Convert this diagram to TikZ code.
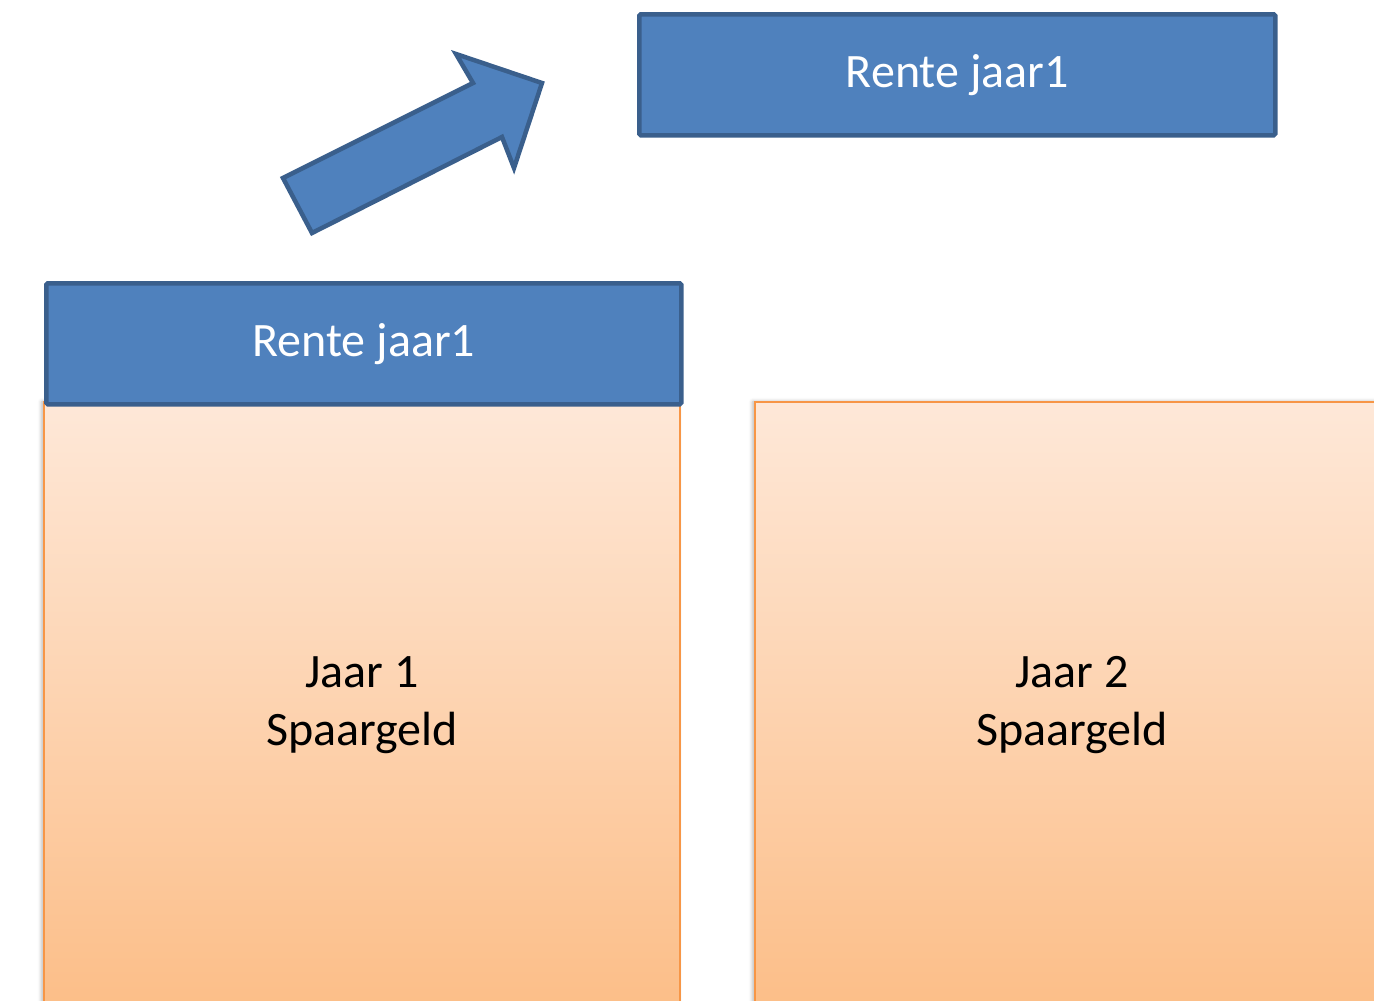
\documentclass[tikz,border=0pt]{standalone}
\usepackage{fontspec}
\setmainfont{Carlito}
\usetikzlibrary{shadows.blur}
\definecolor{bluefill}{HTML}{4F81BD}
\definecolor{blueedge}{HTML}{3A5F8C}
\definecolor{orangeedge}{HTML}{F79646}
\definecolor{orangetop}{HTML}{FEE8D8}
\definecolor{orangebot}{HTML}{FCBE88}
\tikzset{
  bluebox/.style={draw=blueedge, fill=bluefill, line width=4.5pt, rounded corners=1.5pt,
    text=white, font=\fontsize{48}{56}\selectfont, inner sep=0pt, anchor=north west},
  savebox/.style={draw=orangeedge, line width=1.8pt, top color=orangetop, bottom color=orangebot,
    text=black, font=\fontsize{48}{58}\selectfont, align=center, inner sep=0pt, anchor=north west,
    blur shadow={shadow xshift=-2pt, shadow yshift=0pt, shadow blur radius=4pt, shadow opacity=30}},
  fatarrow/.style={draw=blueedge, fill=bluefill, line width=4.5pt, line join=miter}
}
\begin{document}
\begin{tikzpicture}[x=1pt, y=-1pt]
  \useasboundingbox (0,0) rectangle (1374,1001);
  % savings columns
  \node[savebox, minimum width=636pt, minimum height=606pt] (jaar1) at (43,401)
    {Jaar 1\\Spaargeld};
  \node[savebox, minimum width=634pt, minimum height=606pt] (jaar2) at (754,401)
    {Jaar 2\\Spaargeld};
  % interest blocks
  \node[bluebox, minimum width=635pt, minimum height=121pt] (rente1) at (44,281) {Rente jaar1};
  \node[bluebox, minimum width=636pt, minimum height=121pt] (rente2) at (637,12) {Rente jaar1};
  % block arrow lifting the interest up
  \draw[fatarrow] (283,178) -- (473,83) -- (456,54) -- (542,83) -- (514,168) -- (502,137)
    -- (312,233) -- cycle;
\end{tikzpicture}
\end{document}
